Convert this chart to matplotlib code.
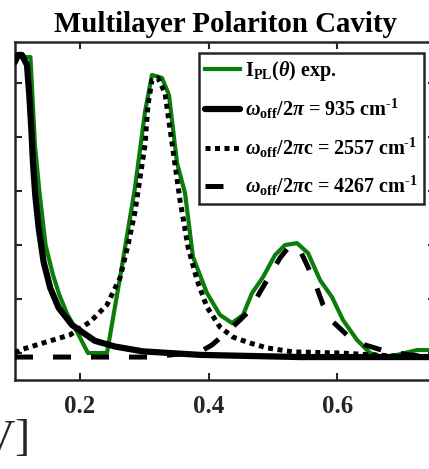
import matplotlib
matplotlib.use("Agg")
import matplotlib.pyplot as plt

# experimental PL intensity (green)
exp_x = [0.110, 0.123, 0.1300, 0.1370, 0.1465, 0.158, 0.168, 0.180, 0.1940,
         0.2124, 0.242, 0.2622, 0.2855, 0.3011, 0.312, 0.3275, 0.3384, 0.3509,
         0.3633, 0.3757, 0.3975, 0.4177, 0.4364, 0.4535, 0.4675, 0.4846, 0.5033,
         0.5188, 0.5375, 0.5546, 0.5733, 0.5919, 0.609, 0.6308, 0.651, 0.6712,
         0.693, 0.7241, 0.7412, 0.752]
exp_y = [1.096, 1.096, 0.770, 0.596, 0.400, 0.290, 0.215, 0.145, 0.085,
         0.0, 0.0, 0.278, 0.611, 0.893, 1.030, 1.019, 0.956, 0.704,
         0.593, 0.356, 0.222, 0.141, 0.111, 0.141, 0.222, 0.281, 0.363,
         0.400, 0.407, 0.370, 0.270, 0.207, 0.122, 0.048, 0.0, -0.015,
         -0.007, 0.011, 0.011, 0.011]

# model, w_off/2pi = 935 cm-1 (solid)
m1_x = [0.099, 0.1036, 0.1098, 0.1176, 0.1212, 0.1243, 0.1269, 0.1305, 0.1358,
        0.1435, 0.1538, 0.1669, 0.1876, 0.2031, 0.2233, 0.2544, 0.298, 0.387,
        0.542, 0.752]
m1_y = [1.078, 1.104, 1.104, 1.067, 0.956, 0.833, 0.707, 0.585, 0.463,
        0.337, 0.241, 0.167, 0.104, 0.078, 0.045, 0.024, 0.006, -0.007,
        -0.015, -0.015]

# model, w_off/2pic = 2557 cm-1 (dotted)
m2_x = [0.099, 0.1067, 0.1425, 0.1844, 0.2156, 0.242, 0.2622, 0.2747, 0.2855,
        0.2933, 0.3011, 0.3058, 0.312, 0.3213, 0.3322, 0.3431, 0.3555, 0.368,
        0.382, 0.3975, 0.4177, 0.438, 0.4644, 0.4908, 0.5313, 0.6044, 0.6557,
        0.7241, 0.752]
m2_y = [0.0, 0.011, 0.037, 0.067, 0.115, 0.178, 0.278, 0.40, 0.522,
        0.648, 0.770, 0.919, 1.011, 1.019, 0.963, 0.778, 0.567, 0.393,
        0.270, 0.170, 0.096, 0.059, 0.037, 0.019, 0.004, 0.0, -0.007,
        -0.015, -0.015]

# model, w_off/2pic = 4267 cm-1 (dashed)
m3_x = [0.099, 0.309, 0.3866, 0.4053, 0.4286, 0.4488, 0.4644, 0.48, 0.4955,
        0.511, 0.5235, 0.5313, 0.5421, 0.553, 0.5655, 0.578, 0.5935, 0.6168,
        0.6432, 0.6743, 0.7132, 0.7428, 0.752]
m3_y = [-0.015, -0.015, 0.004, 0.030, 0.078, 0.122, 0.159, 0.226, 0.289,
        0.352, 0.389, 0.400, 0.381, 0.326, 0.259, 0.178, 0.115, 0.063,
        0.030, 0.007, -0.007, -0.015, -0.015]

labels = [r"I$_{\rm PL}$($\theta$) exp.",
          r"$\omega_{\rm off}/2\pi$ = 935 cm$^{\text{-1}}$",
          r"$\omega_{\rm off}/2\pi$c = 2557 cm$^{\text{-1}}$",
          r"$\omega_{\rm off}/2\pi$c = 4267 cm$^{\text{-1}}$"]

plt.rcParams['font.family'] = ['Liberation Serif', 'DejaVu Serif']
plt.rcParams['font.weight'] = 'bold'
plt.rcParams['mathtext.fontset'] = 'custom'
plt.rcParams['mathtext.rm'] = 'Liberation Serif:bold'
plt.rcParams['mathtext.bf'] = 'Liberation Serif:bold'
plt.rcParams['mathtext.it'] = 'Liberation Serif:italic:bold'

axc = '#262626'
fig = plt.figure(figsize=(4.29, 4.69), dpi=100)
ax = fig.add_axes([15 / 429, 89 / 469, 420 / 429, 338 / 469])

ax.plot(exp_x, exp_y, color='#0a7d0a', lw=3.0, label=labels[0], zorder=2)
ax.plot(m1_x, m1_y, color='black', lw=4.5, label=labels[1], zorder=3,
        solid_capstyle='round', solid_joinstyle='round')
ax.plot(m2_x, m2_y, color='black', lw=3.6, linestyle=(0, (1, 0.9)),
        label=labels[2], zorder=3)
ax.plot(m3_x, m3_y, color='black', lw=3.6, linestyle=(0, (3.6, 4)),
        label=labels[3], zorder=3)

ax.set_xlim(0.099, 0.752)
ax.set_ylim(-0.1, 1.152)
ax.set_xticks([0.2, 0.4, 0.6])
ax.set_xticklabels(['0.2', '0.4', '0.6'])
ax.set_yticks([0, 0.2, 0.4, 0.6, 0.8, 1.0])
ax.tick_params(axis='y', labelleft=False)
ax.tick_params(direction='in', length=5, width=1.5, color=axc,
               top=True, right=True, labelsize=18, labelcolor=axc, pad=11)
for lab in ax.get_xticklabels():
    lab.set_fontweight('bold')
for sp in ax.spines.values():
    sp.set_linewidth(1.8)
    sp.set_color(axc)

ax.set_title('Multilayer Polariton Cavity', fontsize=20.8, fontweight='bold',
             pad=7)

leg = ax.legend(loc='upper right', bbox_to_anchor=(0.974, 0.967),
                borderaxespad=0, fontsize=14.5, handlelength=1.75,
                handletextpad=0.25, labelspacing=0.7, borderpad=0.3,
                fancybox=False, framealpha=1, edgecolor=axc)
leg.get_frame().set_linewidth(1.8)

fig.text(30 / 429, 19 / 469, 'Energy [eV]', ha='right', va='baseline',
         fontsize=32, fontweight='normal', color=axc)

plt.savefig('out.png', dpi=100)
